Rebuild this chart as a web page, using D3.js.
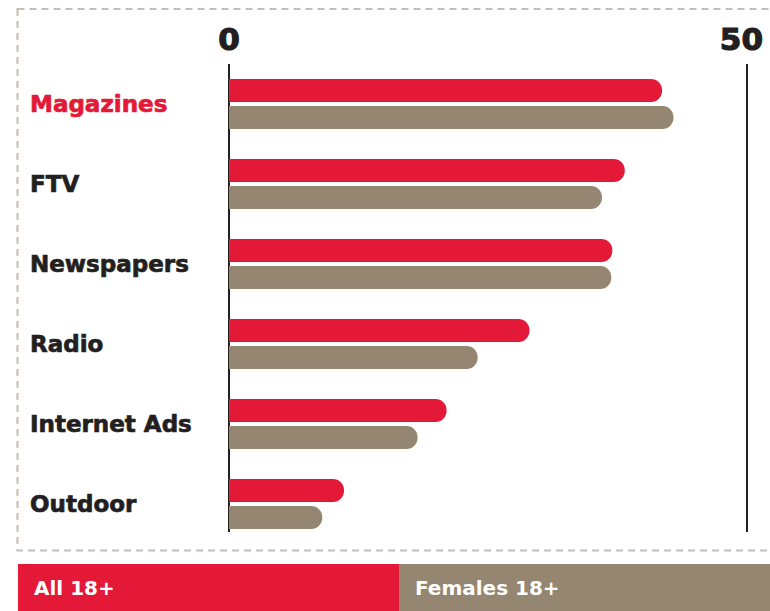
<!DOCTYPE html>
<meta charset="utf-8">
<script src="https://d3js.org/d3.v7.min.js"></script>
<style>
  body { margin: 0; background: #fff; }
  text { font-family: "DejaVu Sans", sans-serif; font-weight: bold; }
</style>
<div id="my_dataviz"></div>
<script>
// data (%)
var categories = ["Magazines", "FTV", "Newspapers", "Radio", "Internet Ads", "Outdoor"];
var series = ["All 18+", "Females 18+"];
var all18 = [41.8, 38.2, 37.0, 29.0, 21.0, 11.1];
var females18 = [42.9, 36.0, 36.9, 24.0, 18.2, 9.0];
var tickValues = [0, 50];

var colors = { "All 18+": "#e41937", "Females 18+": "#958671" };
var dark = "#231f20";

var width = 770, height = 611;

var svg = d3.select("#my_dataviz")
  .append("svg")
    .attr("width", width)
    .attr("height", height);

// dashed frame (right side runs off the page)
svg.append("rect")
  .attr("x", 17.5).attr("y", 9)
  .attr("width", 800).attr("height", 541.5)
  .attr("fill", "none")
  .attr("stroke", "#c6bcb0")
  .attr("stroke-width", 2)
  .attr("stroke-dasharray", "7,5");

var x = d3.scaleLinear().domain([0, 50]).range([229, 747]);

var y = d3.scaleBand()
  .domain(categories)
  .range([79, 529])
  .paddingInner(0.375)
  .paddingOuter(0);

var ySub = d3.scaleBand()
  .domain(series)
  .range([0, y.bandwidth()])
  .paddingInner(0.15);

// vertical lines at 0 and 50
svg.selectAll(".vline")
  .data(tickValues)
  .enter()
  .append("line")
    .attr("x1", function(d){ return x(d); })
    .attr("x2", function(d){ return x(d); })
    .attr("y1", 64)
    .attr("y2", 532)
    .attr("stroke", dark)
    .attr("stroke-width", 2);

// tick labels
svg.selectAll(".tick-label")
  .data(tickValues)
  .enter()
  .append("text")
    .attr("x", function(d){ return d == 0 ? x(d) : x(d) + 16; })
    .attr("y", 50)
    .attr("text-anchor", function(d){ return d == 0 ? "middle" : "end"; })
    .attr("font-size", "31px")
    .attr("fill", dark)
    .attr("stroke", dark)
    .attr("stroke-width", 1.2)
    .text(function(d){ return d; });

// bars, square at 0, rounded at the end
var rows = [];
categories.forEach(function(c, i) {
  rows.push({ cat: c, s: "All 18+", v: all18[i] });
  rows.push({ cat: c, s: "Females 18+", v: females18[i] });
});

function barPath(d) {
  var x0 = x(0), x1 = x(d.v);
  var y0 = y(d.cat) + ySub(d.s), h = ySub.bandwidth();
  var r = Math.min(11, h / 2);
  return "M" + x0 + "," + y0 +
    "H" + (x1 - r) +
    "A" + r + "," + r + " 0 0 1 " + x1 + "," + (y0 + r) +
    "V" + (y0 + h - r) +
    "A" + r + "," + r + " 0 0 1 " + (x1 - r) + "," + (y0 + h) +
    "H" + x0 + "Z";
}

svg.selectAll(".bar")
  .data(rows)
  .enter()
  .append("path")
    .attr("d", barPath)
    .attr("fill", function(d){ return colors[d.s]; });

// category labels
svg.selectAll(".cat-label")
  .data(categories)
  .enter()
  .append("text")
    .attr("x", 30)
    .attr("y", function(d){ return y(d) + y.bandwidth() / 2 + 7.5; })
    .attr("font-size", "23px")
    .attr("fill", function(d, i){ return i == 0 ? colors["All 18+"] : dark; })
    .attr("stroke", function(d, i){ return i == 0 ? colors["All 18+"] : dark; })
    .attr("stroke-width", 0.7)
    .text(function(d){ return d; });

// legend band at the bottom
var legX = d3.scaleBand().domain(series).range([18, 780]);

var leg = svg.selectAll(".legend")
  .data(series)
  .enter()
  .append("g");

leg.append("rect")
  .attr("x", function(d){ return legX(d); })
  .attr("y", 564)
  .attr("width", legX.bandwidth())
  .attr("height", 50)
  .attr("fill", function(d){ return colors[d]; });

leg.append("text")
  .attr("x", function(d){ return legX(d) + 16; })
  .attr("y", 595)
  .attr("font-size", "20px")
  .attr("fill", "#fff")
  .text(function(d){ return d; });
</script>
